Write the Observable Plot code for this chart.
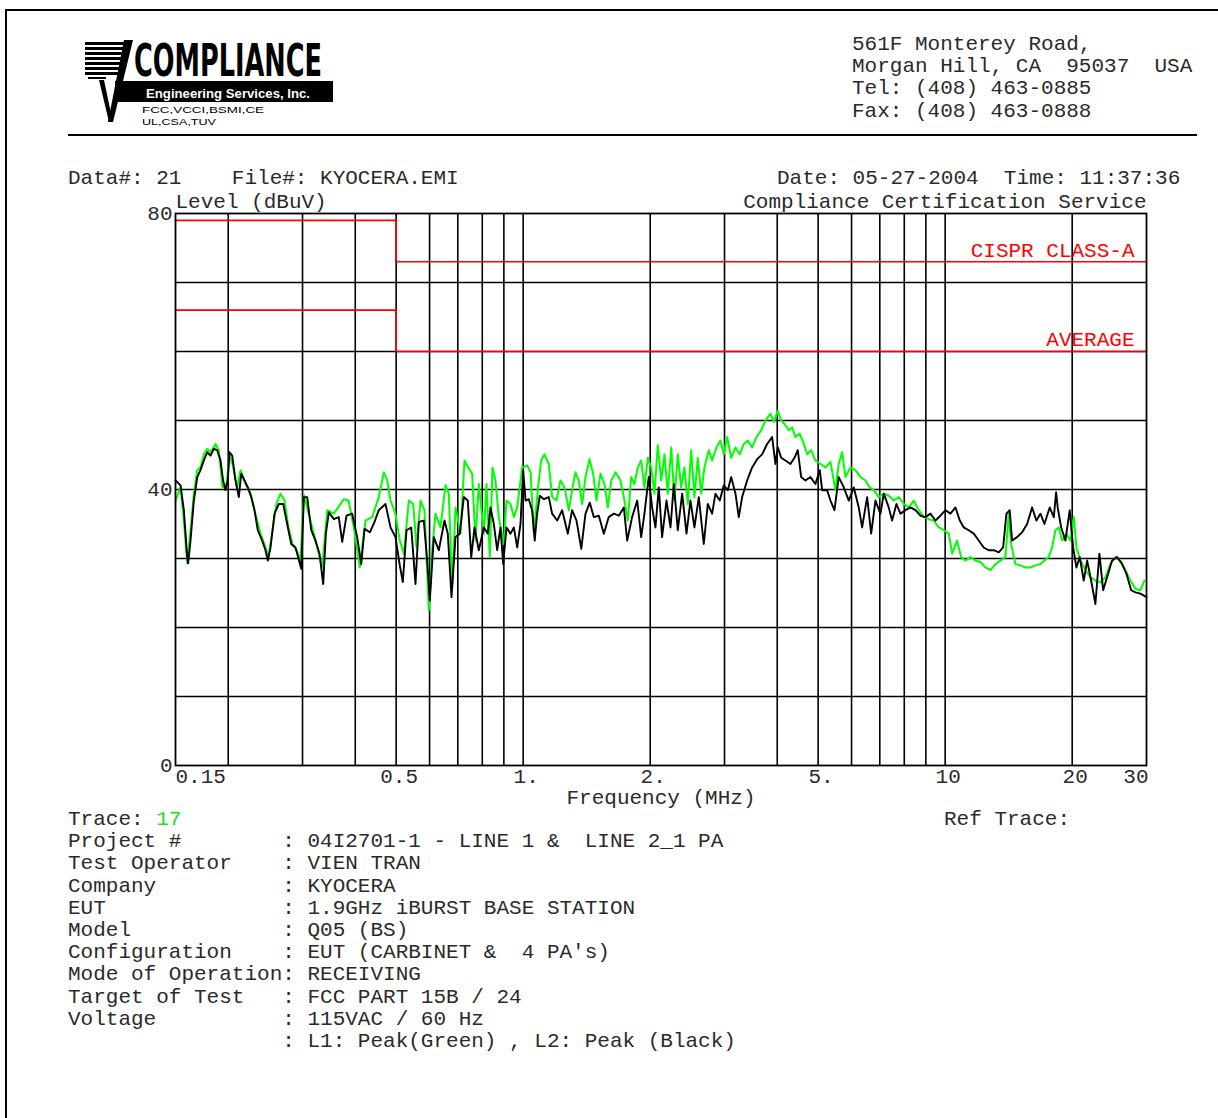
<!DOCTYPE html>
<html><head><meta charset="utf-8">
<script src="https://cdn.jsdelivr.net/npm/d3@7"></script>
<script src="https://cdn.jsdelivr.net/npm/@observablehq/plot@0.6"></script>
<style>
html,body{margin:0;padding:0;background:#fff;}
#page{position:relative;width:1218px;height:1118px;overflow:hidden;font-family:"Liberation Mono","Courier New",monospace;font-size:21px;color:#2a2a2a;}
.t{position:absolute;white-space:pre;line-height:22.2px;margin:0;}
#chart{position:absolute;left:0;top:150px;}
#chart svg{display:block;}
</style></head><body>
<div id="page">
<div style="position:absolute;left:5px;top:9px;width:1213px;height:2px;background:#000"></div>
<div style="position:absolute;left:5px;top:9px;width:2px;height:1109px;background:#000"></div>
<svg style="position:absolute;left:0;top:0" width="460" height="135" viewBox="0 0 460 135">
 <g fill="#000">
  <rect x="85" y="42" width="42" height="3"/>
  <rect x="85" y="47" width="41" height="3"/>
  <rect x="85" y="52" width="40" height="3"/>
  <rect x="85" y="57" width="39" height="3"/>
  <rect x="85" y="62" width="38" height="3"/>
  <rect x="85" y="67" width="37" height="3"/>
  <rect x="85" y="72" width="36" height="3"/>
  <rect x="88" y="77" width="18" height="2"/>
  <polygon points="124,40 133,40 113,122 108,122"/>
  <polygon points="99,80 104,80 112,118 109,122"/>
  <rect x="115" y="81" width="218" height="21"/>
  <text x="134" y="76" font-family="'Liberation Sans Narrow','DejaVu Sans Condensed','Liberation Sans',sans-serif" font-weight="bold" font-size="44" textLength="188" lengthAdjust="spacingAndGlyphs">COMPLIANCE</text>
  <text x="146" y="98" fill="#fff" font-family="'Liberation Sans',sans-serif" font-weight="bold" font-size="13" textLength="164" lengthAdjust="spacingAndGlyphs">Engineering Services, Inc.</text>
  <text x="142" y="113" font-family="'Liberation Sans',sans-serif" font-size="9" textLength="122" lengthAdjust="spacingAndGlyphs">FCC,VCCI,BSMI,CE</text>
  <text x="142" y="125" font-family="'Liberation Sans',sans-serif" font-size="9" textLength="74" lengthAdjust="spacingAndGlyphs">UL,CSA,TUV</text>
 </g>
</svg>
<div class="t" style="left:852px;top:34px">561F Monterey Road,
Morgan Hill, CA  95037  USA
Tel: (408) 463-0885
Fax: (408) 463-0888</div>
<div style="position:absolute;left:68px;top:134px;width:1129px;height:2px;background:#000"></div>
<div class="t" style="left:68px;top:168px">Data#: 21    File#: KYOCERA.EMI</div>
<div class="t" style="left:777px;top:168px">Date: 05-27-2004  Time: 11:37:36</div>
<div id="chart"></div>
<div class="t" style="left:68px;top:809px">Trace: <span style="color:#22dd22">17</span>
Project #        : 04I2701-1 - LINE 1 &amp;  LINE 2_1 PA
Test Operator    : VIEN TRAN
Company          : KYOCERA
EUT              : 1.9GHz iBURST BASE STATION
Model            : Q05 (BS)
Configuration    : EUT (CARBINET &amp;  4 PA's)
Mode of Operation: RECEIVING
Target of Test   : FCC PART 15B / 24
Voltage          : 115VAC / 60 Hz
                 : L1: Peak(Green) , L2: Peak (Black)</div>
<div class="t" style="left:944px;top:809px">Ref Trace:</div>
</div>
<script>
// ---- data ----
const gridFreqs = [0.2,0.3,0.4,0.5,0.6,0.7,0.8,0.9,1,2,3,4,5,6,7,8,9,10,20];
const gridLevels = [10,20,30,40,50,60,70];
const yTickValues = [0,40,80];
const xTickValues = [0.15,0.5,1,2,5,10,20,30];
const xTickLabels = ["0.15","0.5","1.","2.","5.","10","20","30"];
const limitFreq = [0.15,0.5,0.5,30];
const qpLimit = [79,79,73,73];
const avgLimit = [66,66,60,60];

// L2 peak (black)
const blackFreq = [0.150,0.1542,0.1570,0.1599,0.1607,0.1628,0.1658,0.1689,0.1719,0.1751,0.1783,0.1816,0.1849,0.1883,0.1918,0.1945,0.1970,0.1995,0.2014,0.2044,0.2081,0.2119,0.2147,0.2186,0.2226,0.2268,0.2308,0.2350,0.2407,0.2451,0.2482,0.2519,0.2575,0.2636,0.2700,0.2759,0.2821,0.2887,0.2979,0.3022,0.3077,0.3146,0.3220,0.3291,0.3358,0.3407,0.3463,0.3559,0.3656,0.3725,0.3814,0.3933,0.4042,0.4133,0.4207,0.4333,0.4443,0.4548,0.4718,0.4849,0.4982,0.5101,0.5185,0.5291,0.5429,0.5557,0.5658,0.5815,0.5923,0.6008,0.6141,0.6310,0.6510,0.6628,0.6763,0.6912,0.7076,0.7233,0.7392,0.7532,0.7667,0.7849,0.8068,0.8244,
0.8367,0.8520,0.8677,0.8835,0.8967,0.9130,0.9332,0.9503,0.9678,0.9855,1.000,1.013,1.031,1.050,1.065,1.079,1.095,1.119,1.150,1.171,1.204,1.237,1.276,1.306,1.338,1.373,1.405,1.438,1.470,1.511,1.553,1.595,1.640,1.685,1.732,1.764,1.812,1.863,1.904,1.938,1.984,2.021,2.058,2.096,2.134,2.186,2.234,2.275,2.325,2.381,2.438,2.491,2.546,2.607,2.679,2.738,2.804,2.855,2.923,2.988,3.054,3.111,3.185,3.243,3.303,3.394,3.488,3.585,3.683,3.786,3.890,3.961,4.012,4.087,4.183,4.299,4.394,4.474,4.558,4.666,4.795,4.927,5.045,5.110,5.252,
5.348,5.466,5.595,5.751,5.909,6.074,6.241,6.356,6.533,6.678,6.836,7.025,7.154,7.350,7.487,7.666,7.835,8.051,8.274,8.503,8.738,8.980,9.228,9.483,9.746,10.02,10.29,10.58,10.83,11.07,11.37,11.69,12.01,12.34,12.68,13.04,13.40,13.72,13.97,14.22,14.41,14.81,15.22,15.64,16.07,16.45,16.82,17.19,17.69,18.09,18.32,18.48,18.83,19.27,19.73,20.10,20.47,20.84,21.30,21.70,22.18,22.70,23.20,23.68,24.20,24.86,25.55,26.26,26.89,27.59,28.24,29.02,30.0];
const blackLevel = [41.3,40.6,37.0,30.2,29.3,32.6,38.4,41.8,42.8,44.2,45.4,44.9,45.9,45.7,44.2,41.3,39.9,41.3,45.4,44.9,41.3,38.9,42.3,41.3,40.3,38.9,37.0,34.1,32.6,31.2,29.7,31.6,36.5,37.9,37.9,35.0,32.1,31.6,28.5,38.9,38.9,34.1,32.6,30.7,26.3,33.6,36.7,35.7,36.0,32.4,36.2,36.5,33.1,29.2,34.3,33.8,35.3,37.0,37.9,34.5,33.1,29.0,26.6,34.1,34.5,26.3,35.3,35.5,29.7,23.9,33.1,31.2,35.5,33.6,24.4,33.1,33.6,38.9,38.4,30.2,34.5,31.2,34.5,33.6,
37.4,35.0,31.2,34.5,29.2,34.5,33.6,34.5,31.6,35.0,42.8,38.4,38.6,37.0,32.6,36.5,39.1,38.6,38.9,36.5,35.5,37.0,33.6,37.0,35.5,31.4,36.5,38.1,36.0,36.2,33.6,36.0,36.5,36.2,37.4,32.6,36.0,38.4,33.1,36.5,41.8,37.4,34.5,40.3,33.1,38.4,34.5,40.8,34.1,39.4,33.6,38.4,34.5,38.9,32.1,37.9,36.5,39.4,38.4,40.6,39.9,41.8,39.4,36.0,38.9,41.3,43.2,44.4,45.1,46.6,47.6,43.7,46.1,44.6,44.2,43.7,44.6,45.7,41.8,41.3,41.8,40.8,42.8,39.9,39.9,
38.4,37.0,41.8,40.3,38.4,40.3,37.4,34.5,38.9,33.6,38.4,36.5,39.4,37.4,35.5,37.9,36.5,37.0,37.4,37.0,36.2,36.0,36.5,35.5,36.2,37.0,36.5,37.4,35.5,34.5,34.1,33.6,32.6,31.6,31.2,31.2,30.9,31.6,36.5,37.0,32.6,33.1,33.8,35.0,37.4,35.5,36.5,35.0,37.4,36.0,39.6,37.4,34.5,32.6,37.0,31.6,28.7,30.2,26.8,29.7,26.8,23.4,30.7,25.4,27.3,29.7,30.2,29.2,27.8,25.4,25.1,24.9,24.4];

// L1 peak (green)
const greenFreq = [0.150,0.1542,0.1570,0.1599,0.1628,0.1658,0.1689,0.1719,0.1751,0.1783,0.1816,0.1866,0.1900,0.1938,0.1981,0.2014,0.2047,0.2100,0.2139,0.2198,0.2259,0.2321,0.2385,0.2451,0.2491,0.2547,0.2603,0.2661,0.2719,0.2779,0.2840,0.2903,0.2967,0.3022,0.3191,0.3340,0.3433,0.3559,0.3759,0.3856,0.3969,0.4100,0.4230,0.4387,0.4548,0.4676,0.4762,0.4849,0.4982,0.5101,0.5215,0.5358,0.5488,0.5588,0.5711,0.5836,0.5975,0.6085,0.6197,0.6369,0.6545,0.6664,0.6788,0.6912,0.7104,0.7260,0.7407,0.7570,0.7709,0.7849,0.8068,0.8186,0.8335,0.8458,0.8597,0.8753,
0.8998,0.9130,0.9332,0.9503,0.9678,0.9944,1.022,1.041,1.060,1.083,1.103,1.123,1.150,1.171,1.199,1.226,1.253,1.283,1.306,1.330,1.354,1.380,1.405,1.436,1.465,1.492,1.525,1.558,1.587,1.617,1.655,1.700,1.738,1.770,1.803,1.835,1.869,1.904,1.938,1.974,2.011,2.047,2.084,2.124,2.162,2.201,2.243,2.283,2.325,2.368,2.411,2.455,2.501,2.546,2.593,2.642,2.689,2.753,2.804,2.871,2.934,2.988,3.044,3.111,3.185,3.260,3.333,3.406,3.488,3.571,3.665,3.751,3.855,3.926,4.012,4.087,4.161,4.260,4.338,4.418,4.523,4.624,4.709,4.814,4.927,5.064,5.204,
5.348,5.495,5.595,5.699,5.804,5.964,6.129,6.299,6.473,6.627,6.774,6.960,7.154,7.350,7.555,7.763,7.979,8.198,8.426,8.658,8.899,9.143,9.398,9.656,9.925,10.20,10.39,10.67,10.91,11.17,11.48,11.80,12.12,12.46,12.80,13.16,13.52,13.89,14.15,14.33,14.67,15.08,15.50,15.92,16.36,16.82,17.19,17.60,17.92,18.25,18.58,18.93,19.38,19.81,20.17,20.47,20.92,21.50,22.09,22.70,23.33,23.98,24.64,25.32,26.02,26.74,27.48,28.24,29.02,29.66];
const greenLevel = [38.4,40.3,35.5,29.3,34.0,39.4,42.8,43.2,45.1,45.9,45.4,46.6,45.7,40.3,40.8,44.9,43.7,40.3,42.8,40.8,39.4,36.5,33.6,31.6,30.2,34.1,38.0,39.4,38.4,34.5,32.1,31.2,29.7,39.2,33.6,28.7,37.0,36.5,38.6,38.4,34.5,28.7,35.5,36.0,38.9,42.5,41.3,38.4,36.5,32.6,30.7,38.4,37.9,31.6,38.4,37.0,22.5,31.2,36.5,34.5,40.6,39.4,25.8,37.4,33.6,44.2,43.2,42.3,32.6,40.8,33.6,40.8,30.2,43.2,41.3,36.0,
32.1,38.4,37.9,36.0,37.4,43.2,43.5,42.5,33.6,39.9,44.2,45.1,43.7,38.9,38.4,41.3,40.3,37.0,39.9,42.5,41.3,37.9,41.8,44.4,42.3,38.4,42.3,40.8,37.4,41.3,42.5,41.3,38.4,35.5,41.8,40.8,43.2,44.2,40.3,44.6,43.2,39.4,46.4,41.3,45.1,39.4,46.1,38.4,45.1,40.3,43.2,37.9,45.7,38.9,44.6,39.4,43.2,45.7,44.2,46.1,47.1,45.1,47.6,44.6,46.1,45.1,46.6,47.1,46.1,47.6,48.6,50.0,51.0,49.8,51.4,50.0,49.5,48.6,49.0,47.6,48.1,46.6,45.1,45.7,44.2,43.7,43.2,
44.0,39.9,43.7,45.4,41.8,43.2,42.8,41.8,41.3,40.3,39.9,38.9,39.4,39.1,38.4,38.9,37.9,37.4,38.4,37.0,36.0,35.7,35.5,34.5,34.1,33.6,30.7,32.6,30.2,29.7,30.2,29.7,29.5,28.7,28.3,29.2,29.7,30.2,36.5,32.1,29.2,29.0,28.7,28.7,29.0,29.2,29.7,30.2,31.6,34.1,34.5,32.6,33.6,32.6,36.0,31.6,29.7,28.3,27.3,26.8,26.5,27.3,29.2,30.2,29.7,28.3,26.8,25.6,25.4,26.8];

// ---- tables built from the arrays ----
const black = blackFreq.map((f, i) => ({f, v: blackLevel[i]}));
const green = greenFreq.map((f, i) => ({f, v: greenLevel[i]}));
const qp = limitFreq.map((f, i) => ({f, v: qpLimit[i]}));
const avg = limitFreq.map((f, i) => ({f, v: avgLimit[i]}));
const xTicks = xTickValues.map((f, i) => ({f, label: xTickLabels[i]}));
const mono = "'Liberation Mono','Courier New',monospace";
const ink = "#2a2a2a";

const chart = Plot.plot({
  width: 1218, height: 670,
  marginLeft: 175, marginRight: 72, marginTop: 63, marginBottom: 55,
  x: {type: "log", domain: [0.15, 30], axis: null},
  y: {domain: [0, 80], axis: null},
  style: {background: "transparent", fontFamily: mono, fontSize: "21px", color: ink, overflow: "visible"},
  marks: [
    Plot.ruleX(gridFreqs, {stroke: "#000", strokeWidth: 1.6}),
    Plot.ruleY(gridLevels, {stroke: "#000", strokeWidth: 1.6}),
    Plot.line(qp, {x: "f", y: "v", stroke: "#ff0000", strokeWidth: 1.6, curve: "linear"}),
    Plot.line(avg, {x: "f", y: "v", stroke: "#ff0000", strokeWidth: 1.6, curve: "linear"}),
    Plot.line(green, {x: "f", y: "v", stroke: "#00ff00", strokeWidth: 2}),
    Plot.line(black, {x: "f", y: "v", stroke: "#000", strokeWidth: 1.9}),
    Plot.frame({stroke: "#000", strokeWidth: 1.8}),
    // y tick labels
    Plot.text(yTickValues, {y: d => d, text: d => String(d), frameAnchor: "left", textAnchor: "end", dx: -3, lineAnchor: "middle", fontFamily: mono, fontSize: 21, fill: ink}),
    // x tick labels
    Plot.text(xTicks.filter(d => d.f === 0.15), {x: "f", text: "label", frameAnchor: "bottom", textAnchor: "start", dy: 17, lineAnchor: "bottom", fontFamily: mono, fontSize: 21, fill: ink}),
    Plot.text(xTicks.filter(d => d.f > 0.15 && d.f < 30), {x: "f", text: "label", frameAnchor: "bottom", textAnchor: "middle", dy: 17, dx: 3, lineAnchor: "bottom", fontFamily: mono, fontSize: 21, fill: ink}),
    Plot.text(xTicks.filter(d => d.f === 30), {x: "f", text: "label", frameAnchor: "bottom", textAnchor: "end", dy: 17, dx: 2, lineAnchor: "bottom", fontFamily: mono, fontSize: 21, fill: ink}),
    Plot.text(["Frequency (MHz)"], {frameAnchor: "bottom", dy: 38, lineAnchor: "bottom", fontFamily: mono, fontSize: 21, fill: ink}),
    Plot.text(["Level (dBuV)"], {frameAnchor: "top-left", textAnchor: "start", dy: -6, lineAnchor: "bottom", fontFamily: mono, fontSize: 21, fill: ink}),
    Plot.text(["Compliance Certification Service"], {frameAnchor: "top-right", textAnchor: "end", dy: -6, lineAnchor: "bottom", fontFamily: mono, fontSize: 21, fill: ink}),
    // limit labels
    Plot.text(["CISPR CLASS-A"], {x: 30, y: qpLimit[3], textAnchor: "end", dx: -12, dy: -5, lineAnchor: "bottom", fontFamily: mono, fontSize: 21, fill: "#ff0000"}),
    Plot.text(["AVERAGE"], {x: 30, y: avgLimit[3], textAnchor: "end", dx: -12, dy: -6, lineAnchor: "bottom", fontFamily: mono, fontSize: 21, fill: "#ff0000"})
  ]
});
document.getElementById("chart").appendChild(chart);
</script>
</body></html>
